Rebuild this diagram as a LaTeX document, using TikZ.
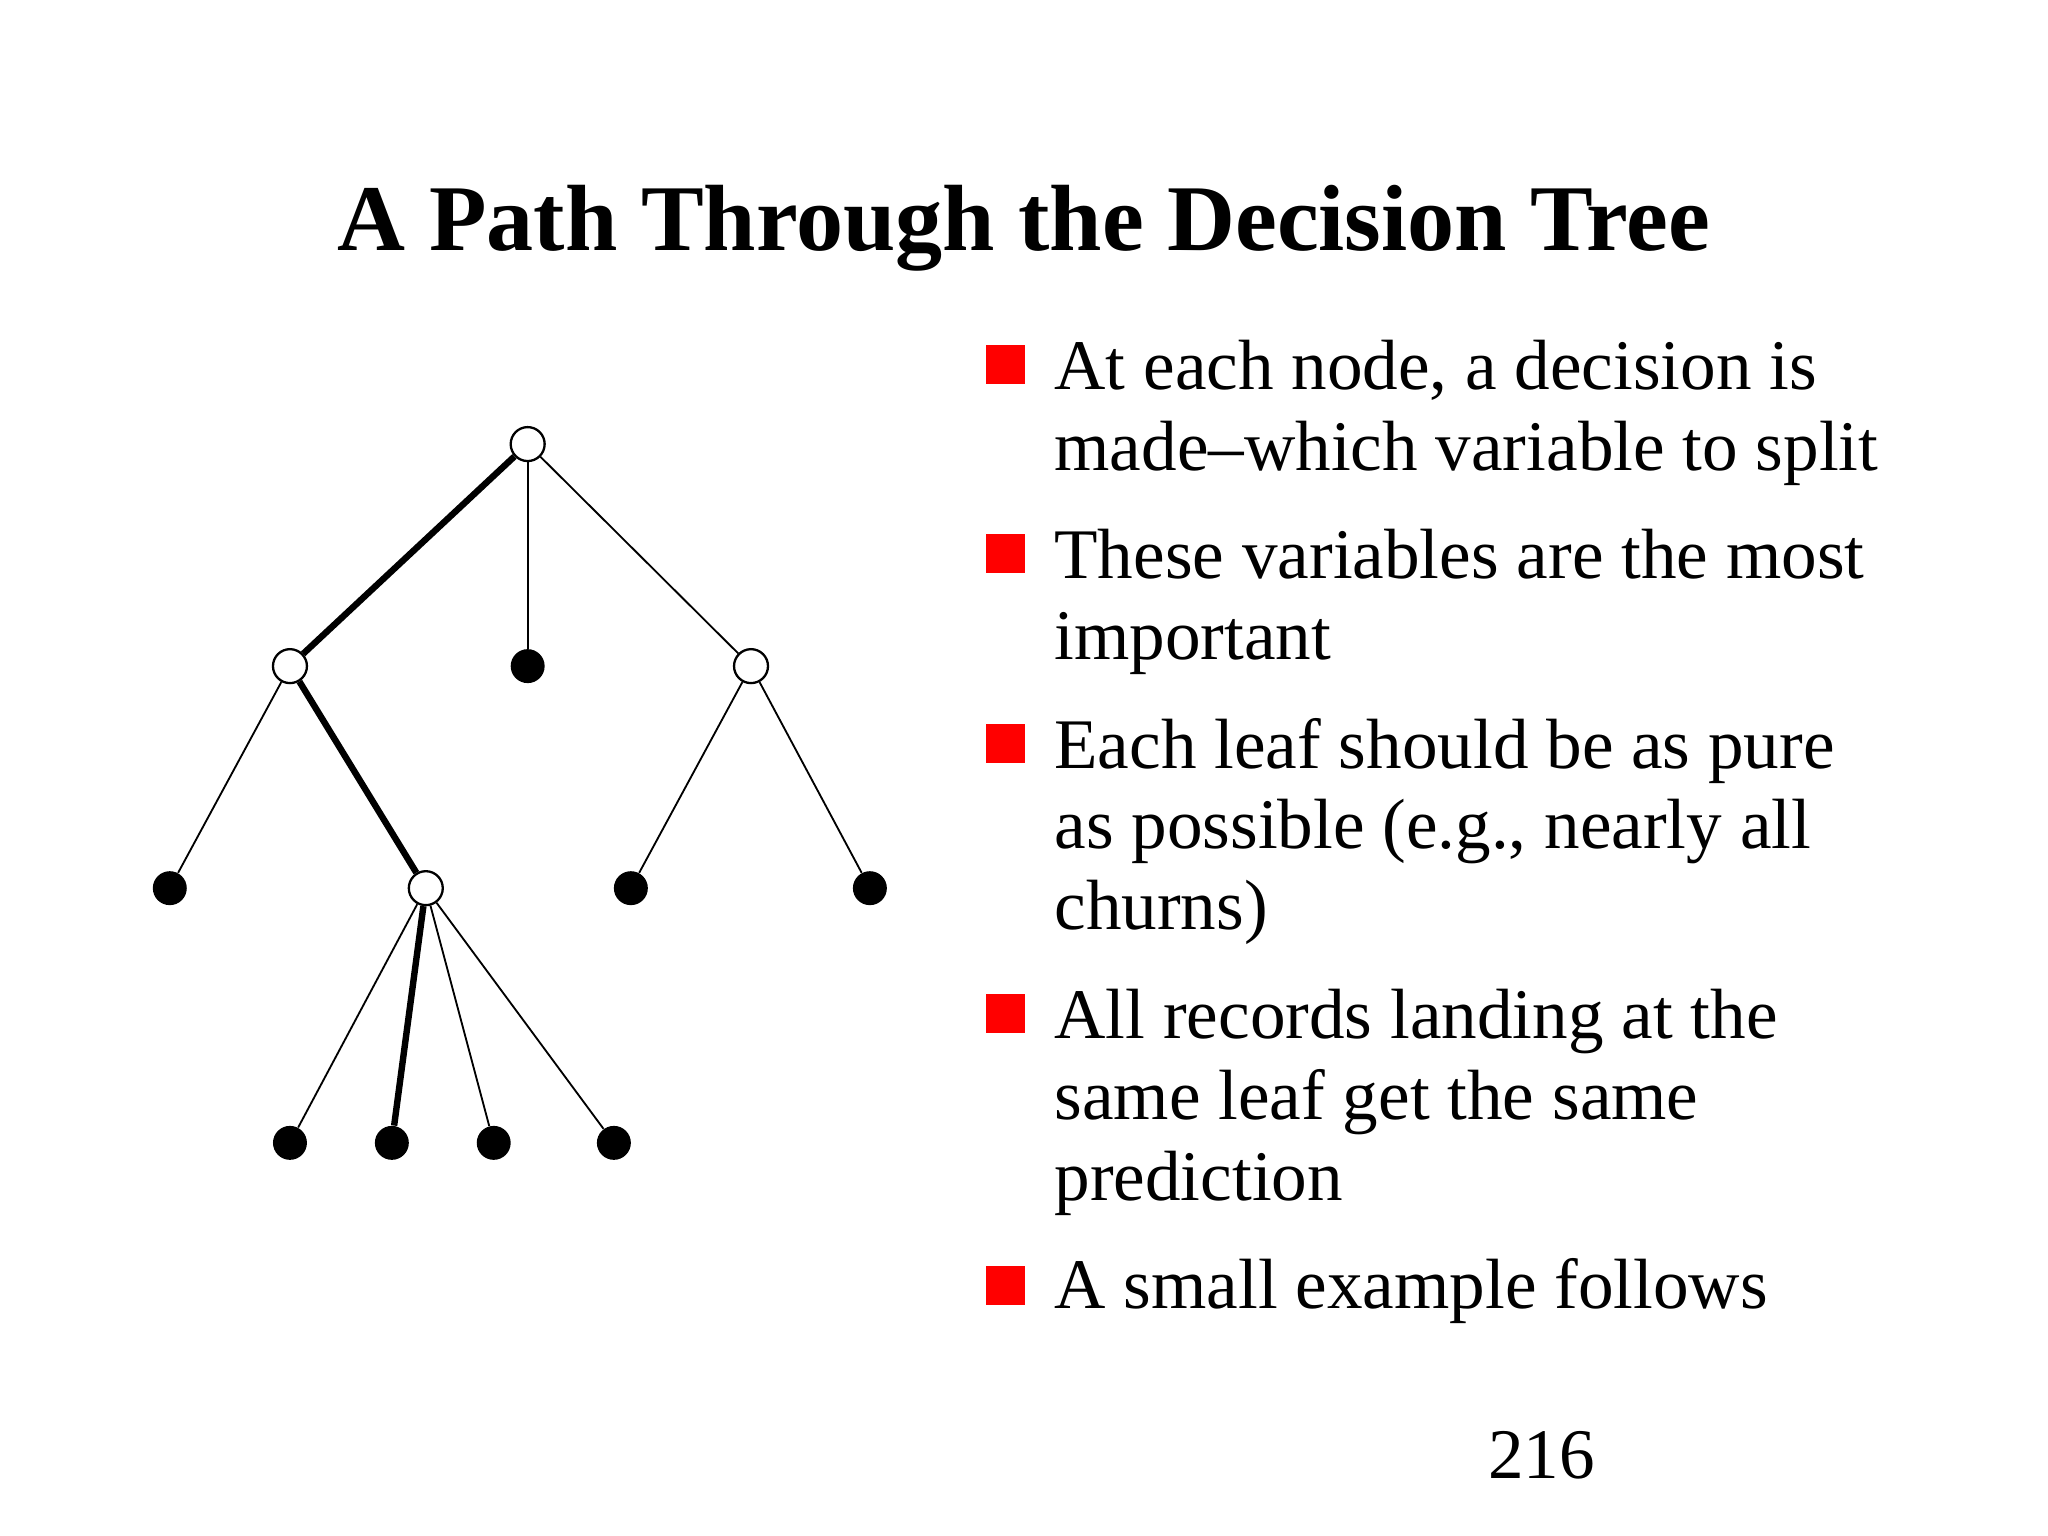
\documentclass[tikz,border=0pt]{standalone}
\usepackage{fontspec}
\setmainfont{Liberation Serif}
\begin{document}
\begin{tikzpicture}[x=0.02cm,y=-0.02cm,
  open/.style={circle,draw,fill=white,line width=1pt,minimum size=26*0.02cm,inner sep=0pt},
  leaf/.style={circle,fill=black,minimum size=26*0.02cm,inner sep=0pt},
  thin/.style={line width=0.8pt},
  thick/.style={line width=2.8pt},
  txt/.style={anchor=base west,inner sep=0pt,font=\fontsize{31}{36}\selectfont},
  bul/.style={fill=red,minimum size=30*0.02cm,inner sep=0pt}]
\useasboundingbox (0,0) rectangle (1568,1176);
\node[anchor=base,inner sep=0pt,font=\fontsize{41}{48}\selectfont\bfseries] (title) at (784,192) {A Path Through the Decision Tree};
\node[open] (r) at (404,340) {};
\node[open] (a) at (222,510) {};
\node[leaf] (b) at (404,510) {};
\node[open] (c) at (575,510) {};
\node[leaf] (a1) at (130,680) {};
\node[open] (m) at (326,680) {};
\node[leaf] (c1) at (483,680) {};
\node[leaf] (c2) at (666,680) {};
\node[leaf] (m1) at (222,875) {};
\node[leaf] (m2) at (300,875) {};
\node[leaf] (m3) at (378,875) {};
\node[leaf] (m4) at (470,875) {};
\draw[thick] (r) -- (a);
\draw[thin] (r) -- (b);
\draw[thin] (r) -- (c);
\draw[thin] (a) -- (a1);
\draw[thick] (a) -- (m);
\draw[thin] (c) -- (c1);
\draw[thin] (c) -- (c2);
\draw[thin] (m) -- (m1);
\draw[thick] (m) -- (m2);
\draw[thin] (m) -- (m3);
\draw[thin] (m) -- (m4);
\foreach \y/\n in {279/b1,424/b2,569/b3,776/b4,984/b5} \node[bul] (\n) at (770,\y) {};
\node[txt] (t1) at (807,298) {At each node, a decision is};
\node[txt] (t2) at (807,360) {made--which variable to split};
\node[txt] (t3) at (807,443) {These variables are the most};
\node[txt] (t4) at (807,505) {important};
\node[txt] (t5) at (807,588) {Each leaf should be as pure};
\node[txt] (t6) at (807,650) {as possible (e.g., nearly all};
\node[txt] (t7) at (807,712) {churns)};
\node[txt] (t8) at (807,795) {All records landing at the};
\node[txt] (t9) at (807,857) {same leaf get the same};
\node[txt] (t10) at (807,919) {prediction};
\node[txt] (t11) at (807,1002) {A small example follows};
\node[txt] (pg) at (1139,1132) {216};
\end{tikzpicture}
\end{document}
